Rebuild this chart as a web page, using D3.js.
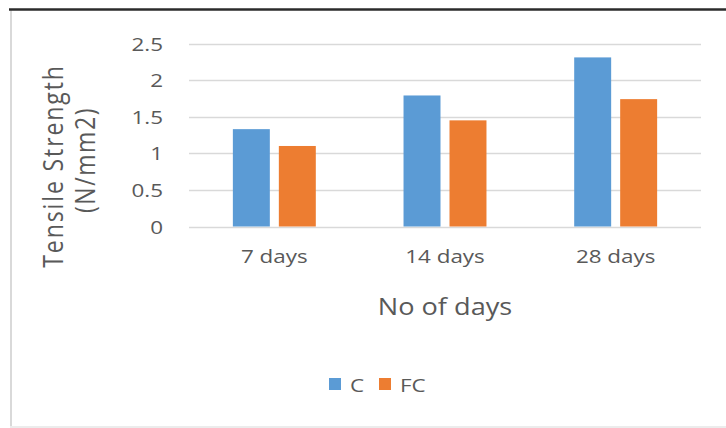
<!DOCTYPE html>
<html>
<head>
<meta charset="utf-8">
<script src="https://cdn.jsdelivr.net/npm/d3@7"></script>
<style>
  html, body { margin: 0; padding: 0; background: #fff; }
  svg { display: block; }
  text { font-family: "Open Sans", "Noto Sans", sans-serif; fill: #595959; }
</style>
</head>
<body>
<svg id="chart" width="726" height="428"></svg>
<script>
// Tensile strength by curing age, for the control mix (C) and the FC mix
const categories = ["7 days", "14 days", "28 days"];
const seriesNames = ["C", "FC"];
const valuesC  = [1.33, 1.79, 2.31];
const valuesFC = [1.10, 1.45, 1.74];
const yTicks = [0, 0.5, 1, 1.5, 2, 2.5];
const colors = ["#5b9bd5", "#ed7d31"];

const rows = categories.map((c, i) => ({ cat: c, vals: [valuesC[i], valuesFC[i]] }));

const W = 726, H = 428;
const svg = d3.select("#chart");
const SX = 1.18; // horizontal glyph stretch

svg.append("rect").attr("width", W).attr("height", H).attr("fill", "#fff");

// frame
svg.append("line").attr("x1", 11).attr("x2", 11).attr("y1", 10).attr("y2", H)
  .attr("stroke", "#d9d9d9").attr("stroke-width", 2);
svg.append("line").attr("x1", 10).attr("x2", W).attr("y1", H - 1).attr("y2", H - 1)
  .attr("stroke", "#ececec").attr("stroke-width", 2);
svg.append("line").attr("x1", 9).attr("x2", W).attr("y1", 9.5).attr("y2", 9.5)
  .attr("stroke", "#2b2b2b").attr("stroke-width", 2.5);

const x = d3.scaleBand().domain(categories).range([189, 701])
  .paddingInner(0.514).paddingOuter(0.257);
const xs = d3.scaleBand().domain(seriesNames).range([0, x.bandwidth()]).paddingInner(0.196);
const y = d3.scaleLinear().domain([0, 2.5]).range([226.5, 43.5]);

function label(g, str, px, py, size, anchor, rot, spacing) {
  const t = g.append("text")
    .attr("transform", `translate(${px},${py})` + (rot ? ` rotate(-90) scale(1,${SX})` : ` scale(${SX},1)`))
    .attr("text-anchor", anchor)
    .attr("font-size", size)
    .attr("letter-spacing", spacing || 0)
    .text(str);
  return t;
}

// gridlines
svg.append("g").selectAll("line").data(yTicks).join("line")
  .attr("x1", 189).attr("x2", 701)
  .attr("y1", d => Math.round(y(d)) + 0.5).attr("y2", d => Math.round(y(d)) + 0.5)
  .attr("stroke", "#d9d9d9").attr("stroke-width", 1.3);

// y tick labels
const yl = svg.append("g");
yTicks.forEach(d => label(yl, d3.format("")(d), 163, y(d) + 7, 19, "end"));

// bars
const groups = svg.append("g").selectAll("g").data(rows).join("g")
  .attr("transform", d => `translate(${x(d.cat)},0)`);
groups.selectAll("rect").data(d => d.vals.map((v, i) => ({ s: seriesNames[i], v, i })))
  .join("rect")
  .attr("x", d => xs(d.s))
  .attr("width", xs.bandwidth())
  .attr("y", d => y(d.v))
  .attr("height", d => y(0) - y(d.v))
  .attr("fill", d => colors[d.i]);

// x tick labels
const xl = svg.append("g");
categories.forEach(c => label(xl, c, x(c) + x.bandwidth() / 2, 263, 19, "middle"));

// axis titles
label(svg, "No of days", 445, 315, 23, "middle");
const yt = svg.append("g");
label(yt, "Tensile Strength", 63, 166, 23, "middle", true, 1.9);
label(yt, "(N/mm2)", 95, 160, 23, "middle", true, 1.6);

// legend
const lg = svg.append("g");
seriesNames.forEach((s, i) => {
  const lx = [329, 379][i];
  lg.append("rect").attr("x", lx).attr("y", 378).attr("width", 12).attr("height", 12).attr("fill", colors[i]);
  label(lg, s, lx + 21, 392, 19, "start");
});
</script>
</body>
</html>
